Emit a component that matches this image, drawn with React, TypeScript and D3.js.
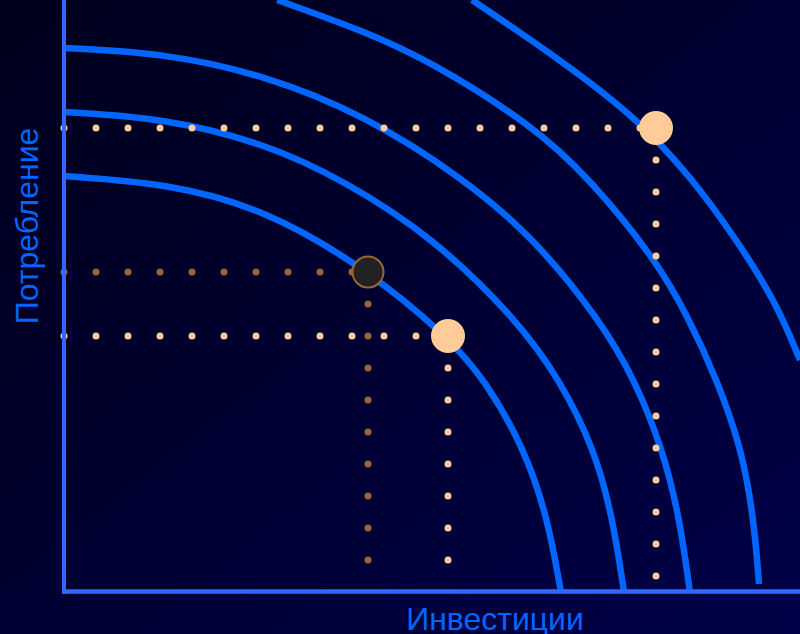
import React from 'react';
import * as d3 from 'd3';

const W = 800;
const H = 634;

// data space: investment (x) vs consumption (y)
const xDomain: [number, number] = [0, 23];
const yDomain: [number, number] = [0, 18.5];

// production possibility frontiers
const frontier1: [number, number][] = [
  [0, 13], [3.13, 12.78], [6.25, 11.99], [9.47, 10.09],
  [12, 7.97], [13.16, 6.63], [14.41, 4.44], [15.13, 2.25], [15.53, 0],
];
const frontier2: [number, number][] = [
  [0, 15], [3.13, 14.81], [6.25, 14.03], [8.72, 12.88], [11.53, 11.09],
  [14.16, 8.5], [15.5, 6.63], [16.59, 4.44], [17.16, 2.25], [17.5, 0],
];
const frontier3: [number, number][] = [
  [0, 17], [3.13, 16.84], [6.25, 16.16], [9.38, 14.91], [12.47, 12.94],
  [14.66, 11.09], [16.75, 8.5], [17.84, 6.63], [18.72, 4.44], [19.25, 2.25], [19.56, 0],
];
const frontier4: [number, number][] = [
  [6.66, 18.5], [9.38, 17.53], [11.5, 16.56], [14.63, 14.59], [16.41, 12.94],
  [18.5, 10.38], [19.47, 8.66], [20.41, 6.63], [21.19, 4.44], [21.56, 2.25], [21.72, 0.25],
];
const frontier5: [number, number][] = [
  [12.75, 18.5], [15.66, 16.53], [17.97, 14.75], [19.66, 12.88], [20.91, 11.16],
  [22.22, 9.13], [23, 7.25],
];
const frontiers = [frontier1, frontier2, frontier3, frontier4, frontier5];

// highlighted combinations
const pointInvest = [18.5, 12, 9.5];
const pointConsume = [14.5, 8, 10];
const pointKind = ['light', 'light', 'dark'];

const xLabel = 'Инвестиции';
const yLabel = 'Потребление';

const BLUE = '#0066ff';
const AXIS = '#3366ff';
const LIGHT = '#ffcc99';
const DARK = '#996633';

export default function App() {
  const x = d3.scaleLinear().domain(xDomain).range([64, 800]);
  const y = d3.scaleLinear().domain(yDomain).range([592, 0]);
  const line = d3
    .line<[number, number]>()
    .x((d) => x(d[0]))
    .y((d) => y(d[1]))
    .curve(d3.curveBasis);

  const pts = pointInvest.map((v, i) => ({
    u: v,
    v: pointConsume[i],
    kind: pointKind[i],
  }));
  const order = [...pts.filter((p) => p.kind === 'light'), ...pts.filter((p) => p.kind === 'dark')];

  return (
    <svg
      width={W}
      height={H}
      style={{ position: 'absolute', left: 0, top: 0, display: 'block' }}
      fontFamily="'Liberation Sans', Arial, sans-serif"
    >
      <defs>
        <linearGradient id="bg" x1="0" y1="0" x2="1" y2="1">
          <stop offset="0%" stopColor="#00001c" />
          <stop offset="100%" stopColor="#000048" />
        </linearGradient>
      </defs>
      <rect x={0} y={0} width={W} height={H} fill="url(#bg)" />

      {frontiers.map((f, i) => (
        <path key={i} d={line(f) || ''} fill="none" stroke={BLUE} strokeWidth={6.5} />
      ))}

      {order.map((p, i) => {
        const c = p.kind === 'light' ? LIGHT : DARK;
        return (
          <g key={'g' + i}>
            <line
              x1={x(0)}
              y1={y(p.v)}
              x2={x(p.u)}
              y2={y(p.v)}
              stroke={c}
              strokeWidth={7}
              strokeLinecap="round"
              strokeDasharray="0 32"
            />
            <line
              x1={x(p.u)}
              y1={y(p.v)}
              x2={x(p.u)}
              y2={y(0)}
              stroke={c}
              strokeWidth={7}
              strokeLinecap="round"
              strokeDasharray="0 32"
            />
          </g>
        );
      })}

      <line x1={x(0)} y1={0} x2={x(0)} y2={y(0) + 2} stroke={AXIS} strokeWidth={4} />
      <line x1={x(0) - 2} y1={y(0) - 0.5} x2={W} y2={y(0) - 0.5} stroke={AXIS} strokeWidth={4.5} />

      {order.map((p, i) =>
        p.kind === 'light' ? (
          <circle key={'p' + i} cx={x(p.u)} cy={y(p.v)} r={17} fill={LIGHT} />
        ) : (
          <circle key={'p' + i} cx={x(p.u)} cy={y(p.v)} r={15.5} fill="#222222" stroke={DARK} strokeWidth={2} />
        )
      )}

      <text x={495} y={630} textAnchor="middle" fontSize={32} fill={BLUE}>
        {xLabel}
      </text>
      <text transform="translate(38,226) rotate(-90)" textAnchor="middle" fontSize={32} fill={BLUE}>
        {yLabel}
      </text>
    </svg>
  );
}
